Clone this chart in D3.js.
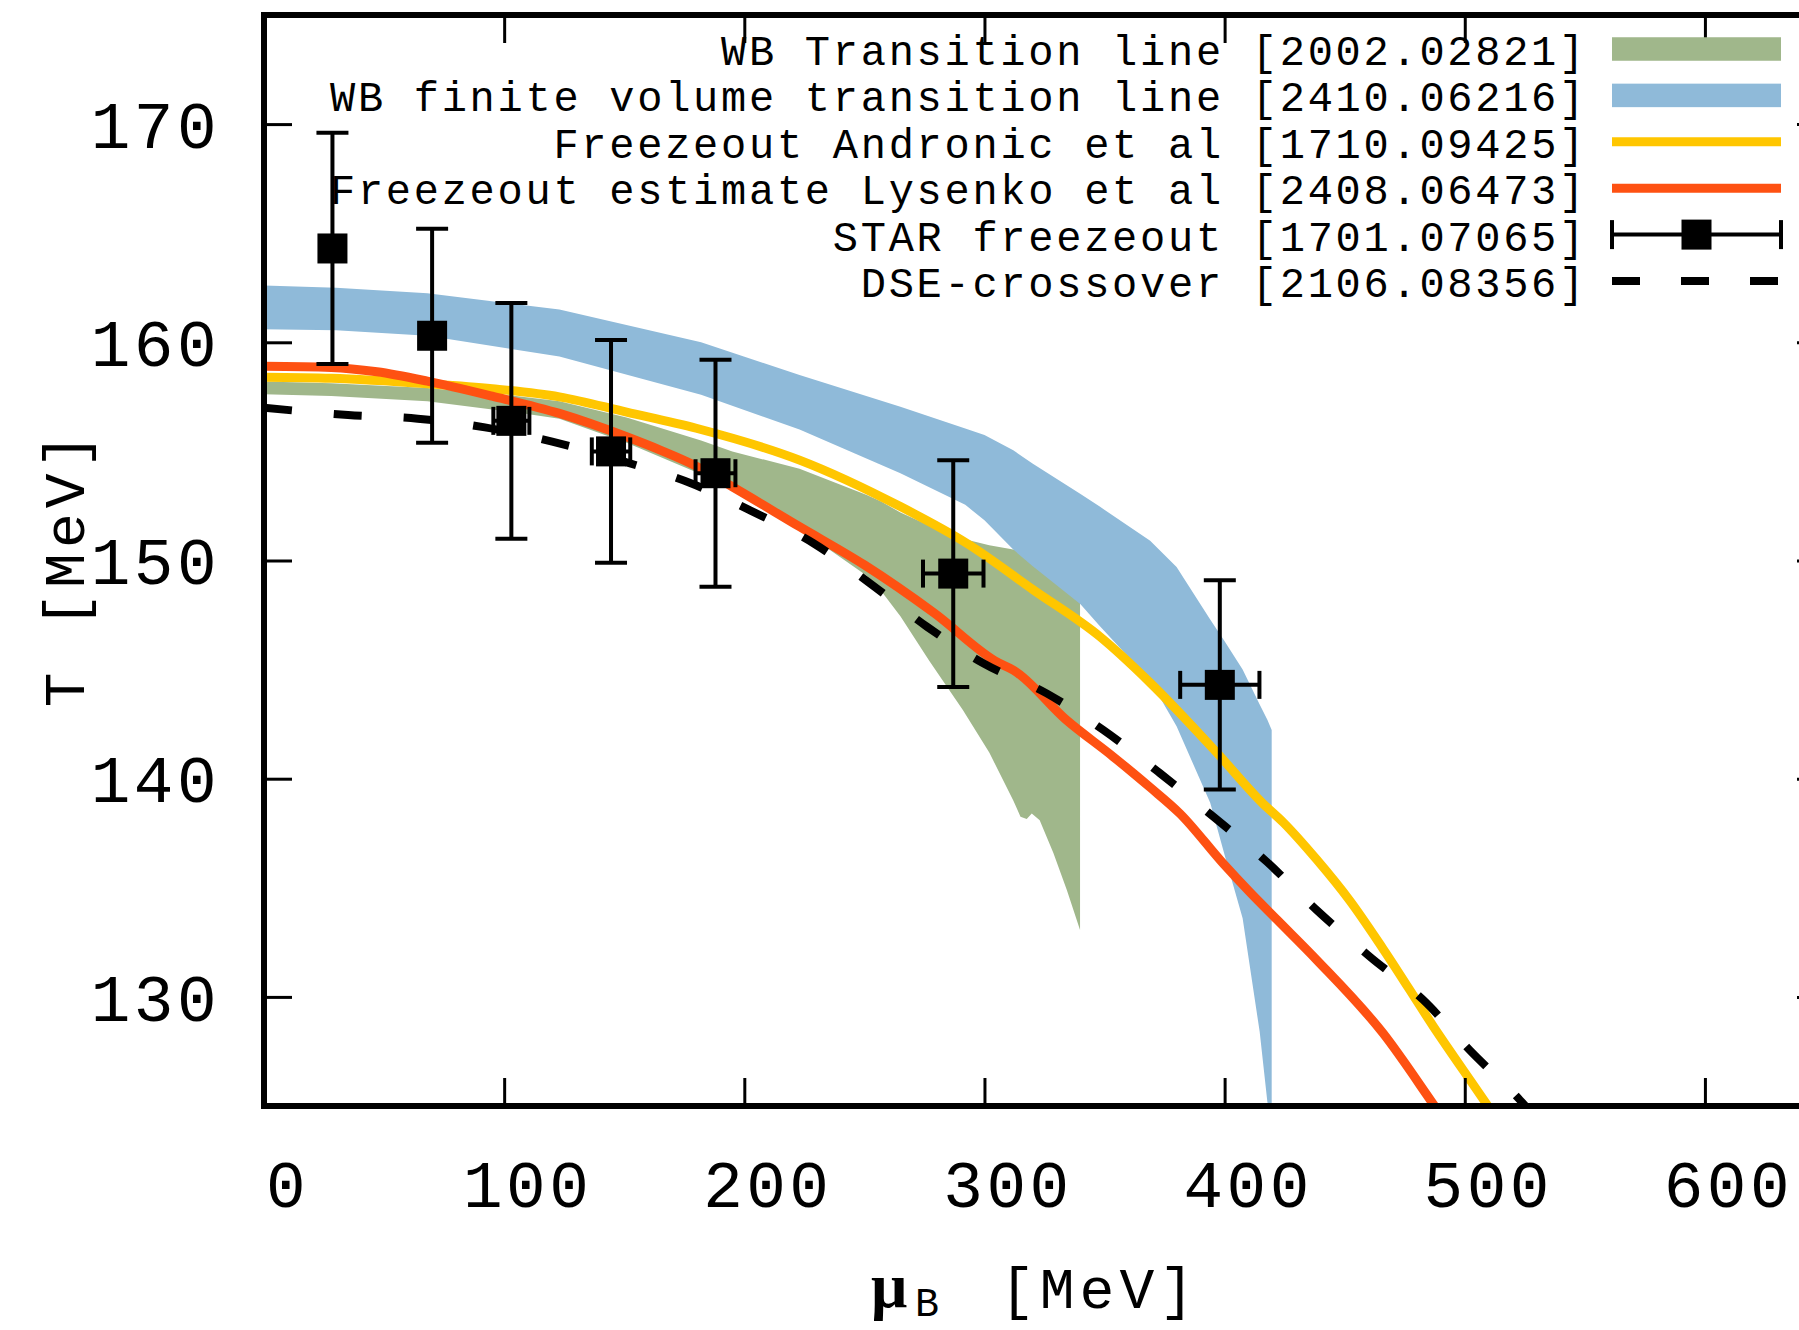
<!DOCTYPE html>
<html>
<head>
<meta charset="utf-8">
<script src="https://cdn.jsdelivr.net/npm/d3@7"></script>
<style>
  html, body { margin: 0; padding: 0; background: #fff; }
  svg { display: block; }
  text { font-family: "Liberation Mono", "DejaVu Sans Mono", monospace; fill: #000; }
</style>
</head>
<body>
<svg id="chart" width="1799" height="1330"></svg>
<script>
// ---- Data -----------------------------------------------------------------
// Axis ticks
const muTicks = [0, 100, 200, 300, 400, 500, 600];
const tTicks = [130, 140, 150, 160, 170];

// WB transition line (band): muB, upper T, lower T
const wbMu = [0, 28, 68, 104, 123, 151, 182, 195, 223, 251, 257, 265, 277, 291, 302, 312, 315, 317.6, 319.7, 323, 328.7, 334.3, 339.8];
const wbHi = [158.2, 158.12, 157.9, 157.55, 157.3, 156.55, 155.5, 155.0, 154.2, 153.0, 152.7, 152.2, 151.6, 151.0, 150.7, 150.5, 150.45, 150.4, 150.35, 150.3, 150.15, 150.0, 149.8];
const wbLo = [157.62, 157.54, 157.3, 156.8, 156.5, 155.4, 153.95, 153.38, 151.45, 149.3, 148.6, 147.45, 145.4, 143.15, 141.2, 139.0, 138.26, 138.15, 138.4, 138.1, 136.6, 134.9, 133.07];

// WB finite volume transition line (band)
const fvMu = [0, 30, 68, 123, 182, 223, 265, 292, 300, 312, 320, 340, 348, 369, 380, 394, 400, 407.5, 414.6, 417.8, 419.6];
const fvHi = [162.6, 162.5, 162.25, 161.5, 160.0, 158.5, 157.05, 156.05, 155.75, 155.05, 154.45, 153.05, 152.47, 150.9, 149.7, 147.3, 146.3, 145.0, 143.4, 142.7, 142.23];
const fvLo = [160.6, 160.55, 160.3, 159.35, 157.6, 156.0, 154.0, 152.55, 151.85, 150.5, 149.75, 148.0, 147.0, 144.5, 142.4, 138.9, 136.5, 133.6, 128.4, 125.2, 124.0];

// Freeze-out, Andronic et al
const andrMu = [0, 28, 68, 95, 123, 151, 180, 223, 265, 292.6, 320.4, 348.2, 369, 396.7, 415.6, 424.4, 438.3, 452.2, 466, 487.2, 509, 520];
const andrT = [158.4, 158.35, 158.1, 157.87, 157.5, 156.8, 156.06, 154.6, 152.47, 150.79, 148.65, 146.5, 144.4, 141.2, 138.9, 138.0, 136.3, 134.4, 132.2, 128.6, 125.1, 123.3];

// Freeze-out estimate, Lysenko et al
const lysMu = [0, 28, 47, 68, 95, 123, 151, 165, 179, 195, 223, 250, 279, 306, 312, 334, 353.7, 362, 369, 381.4, 399.5, 410.5, 421.7, 438.3, 466, 486.8, 495];
const lysT = [158.9, 158.85, 158.65, 158.22, 157.53, 156.74, 155.67, 155.06, 154.38, 153.38, 151.55, 149.8, 147.6, 145.3, 144.98, 142.7, 141.0, 140.25, 139.6, 138.4, 136.1, 134.8, 133.55, 131.7, 128.33, 125.1, 123.8];

// STAR freeze-out points
const starMu = [28.5, 70, 103, 144.5, 188, 287, 398];
const starMuErr = [4, 5, 7.5, 8, 8.3, 12.6, 16.5];
const starT = [164.3, 160.3, 156.4, 155.0, 154.0, 149.4, 144.3];
const starTErr = [5.3, 4.9, 5.4, 5.1, 5.2, 5.2, 4.8];

// DSE crossover line
const dseMu = [0, 35, 64, 92, 120, 151, 177.5, 202.4, 228.8, 252.4, 276, 299.5, 325.9, 349.5, 373.1, 395.3, 417.5, 438.3, 460.5, 482.7, 502, 523, 530];
const dseT = [157.0, 156.67, 156.5, 156.1, 155.45, 154.5, 153.55, 152.3, 150.79, 148.95, 146.97, 145.29, 143.91, 142.23, 140.25, 138.26, 136.2, 133.98, 131.84, 129.86, 127.57, 125.27, 124.4];

const legendLabels = [
  "WB Transition line [2002.02821]",
  "WB finite volume transition line [2410.06216]",
  "Freezeout Andronic et al [1710.09425]",
  "Freezeout estimate Lysenko et al [2408.06473]",
  "STAR freezeout [1701.07065]",
  "DSE-crossover [2106.08356]"
];

// ---- Styles ---------------------------------------------------------------
const colGreen = "#a0b78b";
const colBlue = "#8fbad9";
const colYellow = "#ffc600";
const colRed = "#fe5112";

// ---- Layout ---------------------------------------------------------------
const svg = d3.select("#chart");
const plotLeft = 264, plotRight = 1825, plotTop = 15, plotBottom = 1106;

const x = d3.scaleLinear().domain([0, 650]).range([plotLeft, plotRight]);
const y = d3.scaleLinear().domain([125, 175]).range([plotBottom, plotTop]);

svg.append("rect").attr("width", 1799).attr("height", 1330).attr("fill", "#fff");

svg.append("defs").append("clipPath").attr("id", "plotclip")
  .append("rect").attr("x", plotLeft).attr("y", plotTop)
  .attr("width", plotRight - plotLeft).attr("height", plotBottom - plotTop);

const plot = svg.append("g").attr("clip-path", "url(#plotclip)");

const zipBand = (mu, hi, lo) => mu.map((m, i) => ({ mu: m, hi: hi[i], lo: lo[i] }));
const zipLine = (mu, t) => mu.map((m, i) => ({ mu: m, t: t[i] }));

const area = d3.area()
  .x(d => x(d.mu)).y0(d => y(d.lo)).y1(d => y(d.hi))
  .curve(d3.curveLinear);
const line = d3.line()
  .x(d => x(d.mu)).y(d => y(d.t))
  .curve(d3.curveMonotoneX);

// bands
plot.append("path").datum(zipBand(wbMu, wbHi, wbLo))
  .attr("d", area).attr("fill", colGreen);
plot.append("path").datum(zipBand(fvMu, fvHi, fvLo))
  .attr("d", area).attr("fill", colBlue);

// freeze-out curves
plot.append("path").datum(zipLine(andrMu, andrT))
  .attr("d", line).attr("fill", "none")
  .attr("stroke", colYellow).attr("stroke-width", 9);
plot.append("path").datum(zipLine(lysMu, lysT))
  .attr("d", line).attr("fill", "none")
  .attr("stroke", colRed).attr("stroke-width", 9);

// STAR points with error bars
const star = plot.append("g");
starMu.forEach((m, i) => {
  const g = star.append("g");
  const cx = x(m), cy = y(starT[i]);
  const y0 = y(starT[i] - starTErr[i]), y1 = y(starT[i] + starTErr[i]);
  g.append("line").attr("x1", cx).attr("x2", cx).attr("y1", y0).attr("y2", y1)
    .attr("stroke", "#000").attr("stroke-width", 4);
  [y0, y1].forEach(yy => g.append("line")
    .attr("x1", cx - 16).attr("x2", cx + 16).attr("y1", yy).attr("y2", yy)
    .attr("stroke", "#000").attr("stroke-width", 4));
  if (starMuErr[i] > 0) {
    const x0 = x(m - starMuErr[i]), x1 = x(m + starMuErr[i]);
    g.append("line").attr("x1", x0).attr("x2", x1).attr("y1", cy).attr("y2", cy)
      .attr("stroke", "#000").attr("stroke-width", 4);
    [x0, x1].forEach(xx => g.append("line")
      .attr("x1", xx).attr("x2", xx).attr("y1", cy - 14).attr("y2", cy + 14)
      .attr("stroke", "#000").attr("stroke-width", 4));
  }
  g.append("rect").attr("x", cx - 15).attr("y", cy - 15)
    .attr("width", 30).attr("height", 30).attr("fill", "#000");
});

// DSE crossover
plot.append("path").datum(zipLine(dseMu, dseT))
  .attr("d", line).attr("fill", "none")
  .attr("stroke", "#000").attr("stroke-width", 8)
  .attr("stroke-dasharray", "28,42");

// ---- Axes -----------------------------------------------------------------
const styleTicks = g => {
  g.select(".domain").remove();
  g.selectAll(".tick line").attr("stroke", "#000").attr("stroke-width", 3);
};

svg.append("g").attr("transform", `translate(0,${plotBottom})`)
  .call(d3.axisBottom(x).tickValues(muTicks).tickSize(-28).tickPadding(54))
  .call(styleTicks)
  .call(g => g.selectAll(".tick text")
    .attr("x", 23)
    .attr("font-family", "Liberation Mono")
    .attr("font-size", 66)
    .style("letter-spacing", "3.5px"));

svg.append("g").attr("transform", `translate(0,${plotTop})`)
  .call(d3.axisTop(x).tickValues(muTicks).tickSize(-28).tickFormat(""))
  .call(styleTicks);

svg.append("g").attr("transform", `translate(${plotLeft},0)`)
  .call(d3.axisLeft(y).tickValues(tTicks).tickSize(-28).tickPadding(44))
  .call(styleTicks)
  .call(g => g.selectAll(".tick text")
    .attr("dy", "0.35em")
    .attr("font-family", "Liberation Mono")
    .attr("font-size", 66)
    .style("letter-spacing", "3.5px"));

svg.append("g").attr("transform", `translate(${plotRight},0)`)
  .call(d3.axisRight(y).tickValues(tTicks).tickSize(-28).tickFormat(""))
  .call(styleTicks);

// frame
svg.append("rect").attr("x", plotLeft).attr("y", plotTop)
  .attr("width", plotRight - plotLeft).attr("height", plotBottom - plotTop)
  .attr("fill", "none").attr("stroke", "#000").attr("stroke-width", 6);

// axis titles
svg.append("text")
  .attr("transform", "translate(84,568) rotate(-90)")
  .attr("text-anchor", "middle")
  .attr("font-size", 58)
  .style("letter-spacing", "5px")
  .text("T [MeV]");

svg.append("text").attr("x", 871).attr("y", 1307)
  .attr("font-size", 64)
  .attr("font-weight", "bold")
  .style("font-family", "'Liberation Serif', serif")
  .text("μ");
svg.append("text").attr("x", 915).attr("y", 1316)
  .attr("font-size", 40)
  .text("B");
svg.append("text").attr("x", 1000).attr("y", 1308)
  .attr("font-size", 58)
  .style("letter-spacing", "5px")
  .text("[MeV]");

// ---- Legend ---------------------------------------------------------------
const legX0 = 1612, legX1 = 1781, legTextX = 1587, legRow0 = 49, legStep = 46.4;
const legend = svg.append("g");
legendLabels.forEach((lab, i) => {
  legend.append("text")
    .attr("x", legTextX).attr("y", legRow0 + i * legStep + 16)
    .attr("text-anchor", "end")
    .attr("font-size", 42)
    .style("letter-spacing", "2.73px")
    .text(lab);
});
const ly = i => legRow0 + i * legStep;
legend.append("rect").attr("x", legX0).attr("y", ly(0) - 11.75)
  .attr("width", legX1 - legX0).attr("height", 23.5).attr("fill", colGreen);
legend.append("rect").attr("x", legX0).attr("y", ly(1) - 11.75)
  .attr("width", legX1 - legX0).attr("height", 23.5).attr("fill", colBlue);
legend.append("line").attr("x1", legX0).attr("x2", legX1)
  .attr("y1", ly(2)).attr("y2", ly(2)).attr("stroke", colYellow).attr("stroke-width", 9);
legend.append("line").attr("x1", legX0).attr("x2", legX1)
  .attr("y1", ly(3)).attr("y2", ly(3)).attr("stroke", colRed).attr("stroke-width", 9);
legend.append("line").attr("x1", legX0).attr("x2", legX1)
  .attr("y1", ly(4)).attr("y2", ly(4)).attr("stroke", "#000").attr("stroke-width", 4);
[legX0, legX1].forEach(xx => legend.append("line")
  .attr("x1", xx).attr("x2", xx).attr("y1", ly(4) - 14.5).attr("y2", ly(4) + 14.5)
  .attr("stroke", "#000").attr("stroke-width", 4));
legend.append("rect").attr("x", (legX0 + legX1) / 2 - 15).attr("y", ly(4) - 15)
  .attr("width", 30).attr("height", 30).attr("fill", "#000");
legend.append("line").attr("x1", legX0).attr("x2", legX1)
  .attr("y1", ly(5)).attr("y2", ly(5)).attr("stroke", "#000").attr("stroke-width", 8)
  .attr("stroke-dasharray", "28,41");
</script>
</body>
</html>
